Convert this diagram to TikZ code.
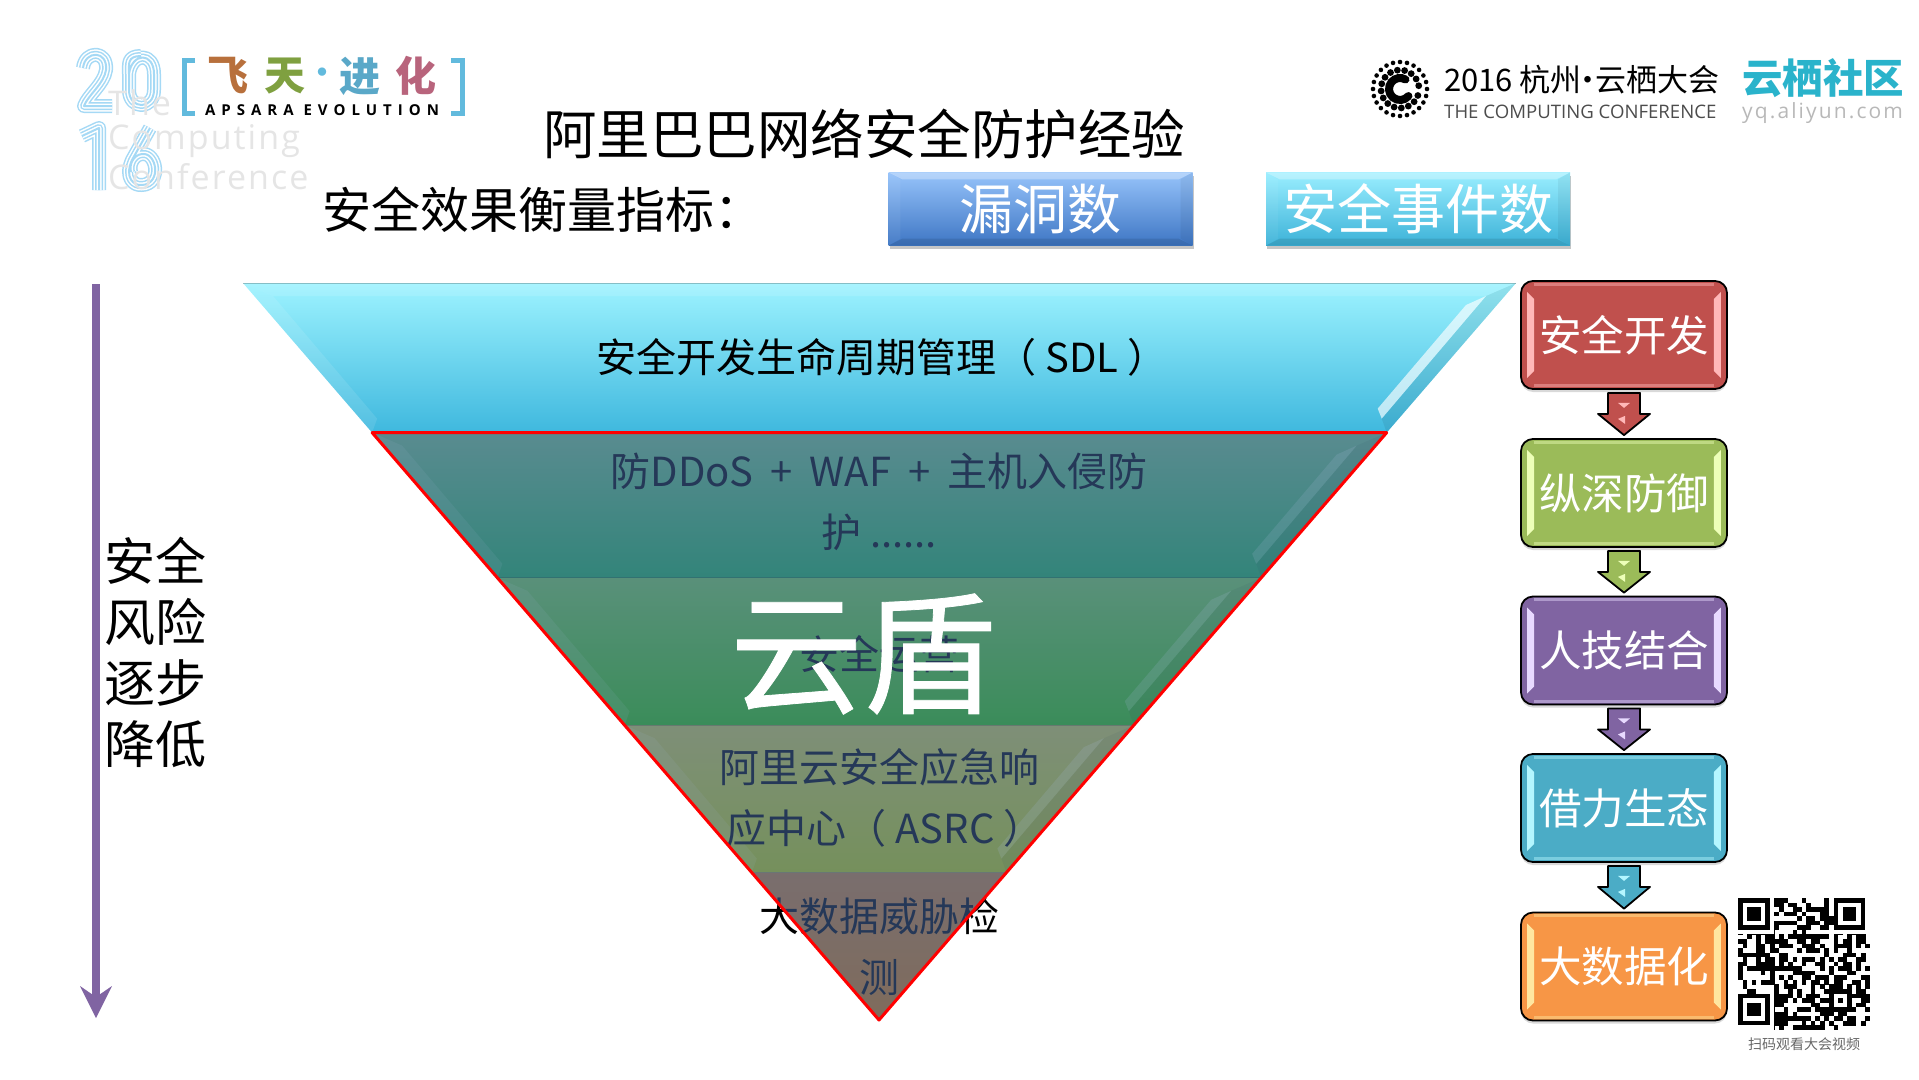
\documentclass[tikz,border=0pt]{standalone}
\usepackage{fontspec}
\setmainfont{Noto Sans CJK SC}
\newfontfamily\logofont{Open Sans}
\usetikzlibrary{calc,shadows,arrows.meta}
\definecolor{sdltop}{HTML}{9DF3FF}
\definecolor{sdlbot}{HTML}{3FB8DE}
\definecolor{ddostop}{HTML}{6AA870}
\definecolor{ddosbot}{HTML}{1C9A44}
\definecolor{opstop}{HTML}{6AB244}
\definecolor{opsbot}{HTML}{2CAA04}
\definecolor{asrctop}{HTML}{B4B040}
\definecolor{asrcbot}{HTML}{A2B208}
\definecolor{datatop}{HTML}{AA6C2C}
\definecolor{databot}{HTML}{B66808}
\definecolor{overlayblue}{HTML}{4A70B0}
\definecolor{devred}{HTML}{C0504D}
\definecolor{devglow}{HTML}{FFB8B8}
\definecolor{depthgreen}{HTML}{9BBB59}
\definecolor{depthglow}{HTML}{EDFFB8}
\definecolor{humanpurple}{HTML}{8064A2}
\definecolor{humanglow}{HTML}{E8DAFF}
\definecolor{ecoteal}{HTML}{4BACC6}
\definecolor{ecoglow}{HTML}{B4F6FF}
\definecolor{bigorange}{HTML}{F79646}
\definecolor{bigglow}{HTML}{FFE6A0}
\definecolor{logoblue}{HTML}{A5D9F5}
\definecolor{bracketblue}{HTML}{62BADD}
\definecolor{yqteal}{HTML}{2AB3CB}
\definecolor{vulntop}{HTML}{96C3FA}
\definecolor{vulnbot}{HTML}{3E76C4}
\definecolor{eventtop}{HTML}{9AEEFF}
\definecolor{eventbot}{HTML}{3CB2D8}
\newcommand{\stripes}[1]{\foreach \w/\c in {14/logoblue,11/white,8/logoblue,5/white,2/logoblue}{\draw[line width=\w pt,color=\c,line join=round] #1;}}
\newcommand{\gapS}{\hspace{9pt}}
\newcommand{\gapL}{\hspace{17pt}}
\begin{document}
\begin{tikzpicture}[x=1pt,y=-1pt]
\tikzstyle{metricbox}=[minimum width=304pt,minimum height=73pt,inner sep=0pt,text=white,font=\fontsize{54}{60}\selectfont,drop shadow={shadow xshift=1pt,shadow yshift=-3pt,opacity=.45}]
\tikzstyle{layertext}=[inner sep=0pt,align=center,font=\fontsize{40}{61}\selectfont]
\tikzstyle{stepbox}=[draw=black,line width=1.8pt,rounded corners=12pt,minimum width=206pt,minimum height=108pt,inner sep=0pt,text=white,font=\fontsize{42.5}{48}\selectfont,drop shadow={shadow xshift=0pt,shadow yshift=-3pt,opacity=.3}]
\tikzstyle{blockarrow}=[draw=black,line width=1.8pt,line join=round]
\tikzstyle{grayword}=[anchor=west,inner sep=0pt,text=black!10,font=\logofont\fontsize{34}{40}\selectfont\addfontfeature{LetterSpace=6}]
\tikzstyle{logochar}=[inner sep=0pt,font=\fontsize{41}{44}\bfseries\selectfont]
\useasboundingbox (0,0) rectangle (1919,1079);
\coordinate (tl) at (243,283);
\coordinate (tr) at (1516,283);
\coordinate (apex) at (879,1020);
\stripes{(83,68) .. controls (85,50) and (108,50) .. (106,70) .. controls (104,84) and (88,95) .. (84,106) -- (112,106)}
\stripes{(141,56) .. controls (127,56) and (129,64) .. (129,74) -- (129,90) .. controls (129,110) and (154,110) .. (154,90) -- (154,74) .. controls (154,52) and (132,52) .. (129,74)}
\stripes{(82,136) -- (99,128) -- (99,190)}
\stripes{(150,128) -- (132,160) .. controls (124,178) and (134,186) .. (142,185) .. controls (162,184) and (157,152) .. (142,154) .. controls (133,155) and (129,165) .. (131,172)}
\node[grayword] (logothe) at (108,103) {The};
\node[grayword] (logocomputing) at (108,141) {Computing};
\node[grayword] (logoconference) at (108,177) {Conference};
\draw[bracketblue,line width=5pt] (195,60) -- (184,60) -- (184,113) -- (195,113);
\draw[bracketblue,line width=5pt] (451,60) -- (462,60) -- (462,113) -- (451,113);
\node[logochar] (logofei) at (228,76) {\textcolor[HTML]{B8703C}{飞}};
\node[logochar] (logotian) at (285,76) {\textcolor[HTML]{7FA040}{天}};
\node[logochar] (logojin) at (360,76) {\textcolor[HTML]{5AA8C8}{进}};
\node[logochar] (logohua) at (416,76) {\textcolor[HTML]{B8647C}{化}};
\node[inner sep=0pt,text=bracketblue,font=\fontsize{30}{30}\bfseries\selectfont] (logodot) at (322,76) {·};
\node[inner sep=0pt,font=\logofont\bfseries\fontsize{15}{18}\selectfont\addfontfeature{LetterSpace=40}] (logoapsara) at (322,110) {APSARA EVOLUTION};
\coordinate (dotlogo) at (1400,89);
\foreach \a in {0,15,...,345} \fill ($(dotlogo)+(\a:27pt)$) circle (2.3pt);
\foreach \a in {10,32,...,340} \fill ($(dotlogo)+(\a:19pt)$) circle (3.4pt);
\draw[line width=8pt,line cap=round] ($(dotlogo)+(-40:11pt)$) arc (-40:-300:11pt);
\node[anchor=west,inner sep=0pt,font=\fontsize{31}{34}\selectfont] (confname) at (1444,80) {2016 杭州\hspace{-9pt}·\hspace{-9pt}云栖大会};
\node[anchor=west,inner sep=0pt,text=black!70,font=\logofont\fontsize{18.6}{20}\selectfont] (confsub) at (1444,112) {THE COMPUTING CONFERENCE};
\node[anchor=west,inner sep=0pt,text=yqteal,font=\fontsize{40.5}{44}\bfseries\selectfont] (yqname) at (1742,78) {云栖社区};
\node[anchor=west,inner sep=0pt,text=black!28,font=\logofont\fontsize{21}{24}\selectfont\addfontfeature{LetterSpace=10}] (yqurl) at (1742,113) {yq.aliyun.com};
\node[inner sep=0pt,font=\fontsize{53.5}{60}\selectfont] (maintitle) at (864,134) {阿里巴巴网络安全防护经验};
\node[anchor=west,inner sep=0pt,font=\fontsize{49}{54}\selectfont] (metriclabel) at (322,210) {安全效果衡量指标：};
\node[metricbox,top color=vulntop,bottom color=vulnbot] (vulncount) at (1040.5,209) {漏洞数};
\node[metricbox,top color=eventtop,bottom color=eventbot] (eventcount) at (1418,209) {安全事件数};
\foreach \bname in {vulncount,eventcount}{
\fill[white,opacity=.3] (\bname.north west) -- (\bname.north east) -- ($(\bname.north east)+(-14,7)$) -- ($(\bname.north west)+(14,7)$) -- cycle;
\fill[white,opacity=.05] (\bname.north west) -- (\bname.south west) -- ($(\bname.south west)+(12,-7)$) -- ($(\bname.north west)+(12,7)$) -- cycle;
\fill[black,opacity=.05] (\bname.north east) -- (\bname.south east) -- ($(\bname.south east)+(-12,-7)$) -- ($(\bname.north east)+(-12,7)$) -- cycle;
\fill[black,opacity=.1] (\bname.south west) -- (\bname.south east) -- ($(\bname.south east)+(-14,-7)$) -- ($(\bname.south west)+(14,-7)$) -- cycle;
}
\foreach \ta/\tb/\ca/\cb in {0/0.203/sdltop/sdlbot,0.203/0.4/ddostop/ddosbot,0.4/0.6/opstop/opsbot,0.6/0.8/asrctop/asrcbot,0.8/1/datatop/databot}{
\shade[top color=\ca,bottom color=\cb] ($(tl)!\ta!(apex)$) -- ($(tr)!\ta!(apex)$) -- ($(tr)!\tb!(apex)$) -- ($(tl)!\tb!(apex)$) -- cycle;
\draw[black,opacity=.25,line width=1pt] ($(tl)!\ta!(apex)$) -- ($(tr)!\ta!(apex)$);
}
\foreach \ta/\tb/\sg in {0/0.203/.65,0.203/0.4/.18,0.4/0.6/.18,0.6/0.8/.18}{
\fill[white,opacity=.1] ($(tl)!\ta!(apex)$) -- ($(tl)!\tb!(apex)$) -- ($(tl)!\tb!(apex)+(5,-14)$) -- ($(tl)!\ta!(apex)+(30,13)$) -- cycle;
\fill[black,opacity=.07] ($(tr)!\ta!(apex)$) -- ($(tr)!\tb!(apex)$) -- ($(tr)!\tb!(apex)+(-5,-14)$) -- ($(tr)!\ta!(apex)+(-30,13)$) -- cycle;
\fill[white,opacity=\sg] ($(tr)!\ta!(apex)+(-30,13)$) -- ($(tr)!\ta!(apex)+(-50,22)$) -- ($(tr)!\tb!(apex)+(-9,-24)$) -- ($(tr)!\tb!(apex)+(-5,-14)$) -- cycle;
}
\fill[white,opacity=.12] (tl) -- (tr) -- ($(tr)+(-30,13)$) -- ($(tl)+(30,13)$) -- cycle;
\node[layertext] (sdltext) at (882,357) {安全开发生命周期管理（\gapS SDL\gapS ）};
\node[layertext] (ddostext) at (879,502) {防DDoS\gapL +\gapL WAF\gapL +\gapL 主机入侵防\\护 ......};
\node[layertext] (opstext) at (879,654) {安全运营};
\node[layertext] (asrctext) at (879,798) {阿里云安全应急响\\\hspace*{12pt}应中心（\gapS ASRC\gapS ）};
\node[layertext] (datatext) at (879,947) {大数据威胁检\\测};
\draw[red,line width=3pt,fill=overlayblue,fill opacity=.5,line join=round] ($(tl)!0.203!(apex)$) -- ($(tr)!0.203!(apex)$) -- (apex) -- cycle;
\node[inner sep=0pt,text=white,font=\fontsize{133}{140}\selectfont\addfontfeature{FakeBold=0.6}] (shieldname) at (863,654) {云盾};
\coordinate (risktop) at (96,284);
\coordinate (riskend) at (96,1018);
\draw[humanpurple,line width=8.5pt,-{Stealth[length=32pt,width=32pt,inset=11pt,line width=0pt]}] (risktop) -- (riskend);
\node[inner sep=0pt,align=center,font=\fontsize{51}{61}\selectfont] (risktext) at (155,652) {安全\\风险\\逐步\\降低};
\foreach \bname/\by/\bcol/\bglow/\btext in {boxdev/335/devred/devglow/安全开发,boxdepth/493/depthgreen/depthglow/纵深防御,boxhuman/650.5/humanpurple/humanglow/人技结合,boxeco/808/ecoteal/ecoglow/借力生态,boxdata/966.5/bigorange/bigglow/大数据化}{
\node[stepbox,fill=\bcol] (\bname) at (1624,\by) {\raisebox{-2pt}{\btext}};
\fill[\bglow] ($(\bname.west)+(7,-43)$) -- ($(\bname.west)+(14,-36)$) -- ($(\bname.west)+(14,36)$) -- ($(\bname.west)+(7,43)$) -- cycle;
\fill[\bglow] ($(\bname.east)+(-7,-43)$) -- ($(\bname.east)+(-14,-36)$) -- ($(\bname.east)+(-14,36)$) -- ($(\bname.east)+(-7,43)$) -- cycle;
\draw[\bglow,opacity=.45,line width=3pt] ($(\bname.north west)+(14,4)$) -- ($(\bname.north east)+(-14,4)$);
\draw[\bglow,opacity=.45,line width=3pt] ($(\bname.south west)+(14,-4)$) -- ($(\bname.south east)+(-14,-4)$);
}
\foreach \afrom/\ato/\bcol/\bglow in {boxdev/boxdepth/devred/devglow,boxdepth/boxhuman/depthgreen/depthglow,boxhuman/boxeco/humanpurple/humanglow,boxeco/boxdata/ecoteal/ecoglow}{
\draw[blockarrow,fill=\bcol] ($(\afrom.south)+(-16,3)$) -- ($(\afrom.south)+(16,3)$) -- ($(\afrom.south)+(16,24)$) -- ($(\afrom.south)+(26,24)$) -- ($(\ato.north)+(0,-3)$) -- ($(\afrom.south)+(-26,24)$) -- ($(\afrom.south)+(-16,24)$) -- cycle;
\fill[\bglow] ($(\afrom.south)+(-6,13)$) -- ($(\afrom.south)+(6,13)$) -- ($(\afrom.south)+(0,18)$) -- cycle;
\fill[\bglow] ($(\afrom.south)+(-6,29)$) -- ($(\afrom.south)+(1,26)$) -- ($(\afrom.south)+(1,34)$) -- cycle;
}
\pgfmathsetseed{2016}
\foreach \qx in {0,...,28}{
\foreach \qy in {0,...,28}{
\pgfmathsetmacro{\qv}{rnd}
\ifdim\qv pt<0.5pt
\fill ({1738+4.55*\qx},{898+4.55*\qy}) rectangle ++(4.65,4.65);
\fi
}}
\foreach \qx/\qy in {0/0,21/0,0/21}{
\fill[white] ({1738+4.55*\qx},{898+4.55*\qy}) rectangle ++(36.4,36.4);
\fill[black] ({1738+4.55*\qx},{898+4.55*\qy}) rectangle ++(31.85,31.85);
\fill[white] ({1738+4.55*\qx+4.55},{898+4.55*\qy+4.55}) rectangle ++(22.75,22.75);
\fill[black] ({1738+4.55*\qx+9.1},{898+4.55*\qy+9.1}) rectangle ++(13.65,13.65);
}
\fill[black] ({1738+4.55*20},{898+4.55*20}) rectangle ++(22.75,22.75);
\fill[white] ({1738+4.55*21},{898+4.55*21}) rectangle ++(13.65,13.65);
\fill[black] ({1738+4.55*22},{898+4.55*22}) rectangle ++(4.55,4.55);
\node[inner sep=0pt,text=black!60,font=\fontsize{14}{16}\selectfont] (qrcaption) at (1804,1044) {扫码观看大会视频};
\end{tikzpicture}
\end{document}
